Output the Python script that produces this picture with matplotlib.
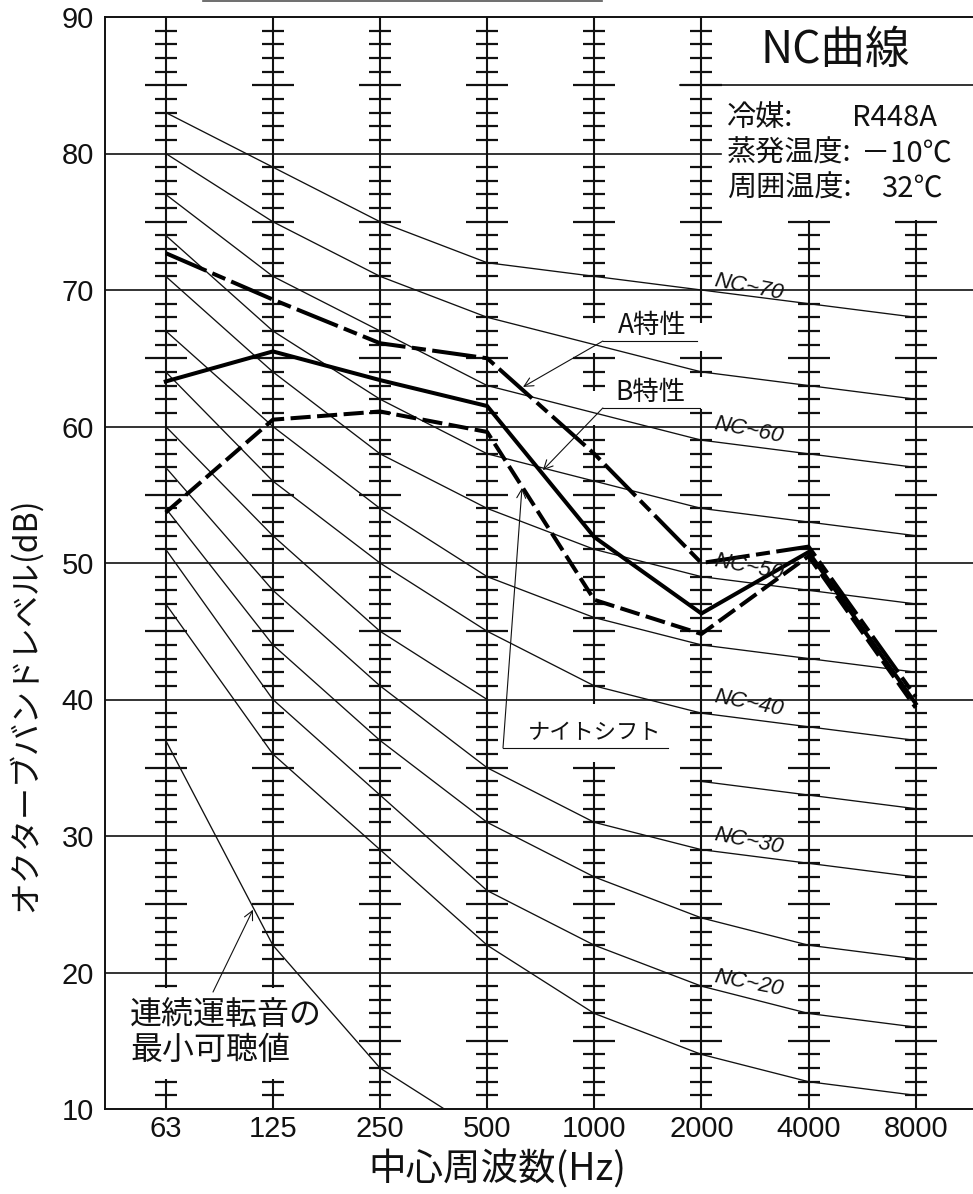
import matplotlib
matplotlib.use('Agg')
import matplotlib.pyplot as plt
from matplotlib.lines import Line2D

plt.rcParams['font.family'] = ['Noto Sans CJK JP', 'DejaVu Sans']

# ---------------- data ----------------
freq_labels = ['63', '125', '250', '500', '1000', '2000', '4000', '8000']
y_ticks = [10, 20, 30, 40, 50, 60, 70, 80, 90]

nc15 = [47, 36, 29, 22, 17, 14, 12, 11]
nc20 = [51, 40, 33, 26, 22, 19, 17, 16]
nc25 = [54, 44, 37, 31, 27, 24, 22, 21]
nc30 = [57, 48, 41, 35, 31, 29, 28, 27]
nc35 = [60, 52, 45, 40, None, 34, 33, 32]   # hidden behind the label box at 1000 Hz
nc40 = [64, 56, 50, 45, 41, 39, 38, 37]
nc45 = [67, 60, 54, 49, 46, 44, 43, 42]
nc50 = [71, 64, 58, 54, 51, 49, 48, 47]
nc55 = [74, 67, 62, 58, 56, 54, 53, 52]
nc60 = [77, 71, 67, 63, 61, 59, 58, 57]
nc65 = [80, 75, 71, 68, 66, 64, 63, 62]
nc70 = [83, 79, 75, 72, 71, 70, 69, 68]
nc_curves = [nc15, nc20, nc25, nc30, nc35, nc40, nc45, nc50, nc55, nc60, nc65, nc70]

min_audible = [37, 22, 13, 8, None, None, None, None]

a_weight = [72.7, 69.3, 66.1, 65.0, 58.0, 50.0, 51.2, 40.2]
b_weight = [63.3, 65.5, 63.4, 61.5, 51.9, 46.3, 50.8, 39.7]
night_shift = [53.7, 60.5, 61.1, 59.6, 47.3, 44.8, 50.5, 39.4]

nc_label_text = ['NC~70', 'NC~60', 'NC~50', 'NC~40', 'NC~30', 'NC~20']
nc_label_y = [70.2, 59.7, 49.7, 39.7, 29.6, 19.2]

# ---------------- layout ----------------
W, H = 973, 1194
fig = plt.figure(figsize=(W / 100, H / 100), dpi=100)
L, R, B, T = 105, 973, 1109, 17
ax = fig.add_axes([L / W, 1 - B / H, (R - L) / W, (B - T) / H])
X0, X1 = -0.567, 7.535
ax.set_xlim(X0, X1)
ax.set_ylim(10, 90)
ink = '#111111'

def xfrac(x):
    return (x - X0) / (X1 - X0)

# horizontal grid lines
for y in [20, 30, 40, 50, 60, 70]:
    ax.axhline(y, color=ink, lw=1.2, zorder=1)
ax.axhline(80, xmin=0, xmax=xfrac(5.18), color=ink, lw=1.2, zorder=1)
# box separator under the title
ax.axhline(85.05, xmin=xfrac(4.80), xmax=1, color=ink, lw=1.2, zorder=1)

for side in ['left', 'bottom', 'top']:
    ax.spines[side].set_linewidth(1.4)
    ax.spines[side].set_color(ink)
ax.spines['right'].set_visible(False)

# band lines with 1 dB scale marks (gaps where labels sit)
hidden = {
    0: [(12.2, 18.9)],
    1: [(12.2, 18.9)],
    4: [(35.4, 39.7), (65.4, 67.6), (60.1, 62.6)],
    5: [(65.5, 67.6), (61.3, 63.6)],
    6: [(75.1, 90.0)],
    7: [(75.1, 90.0)],
}
for i in range(len(freq_labels)):
    gaps = sorted(hidden.get(i, []))
    start = 10.0
    for g0, g1 in gaps:
        ax.vlines(i, start, g0, color=ink, lw=1.5, zorder=1)
        start = g1
    ax.vlines(i, start, 90, color=ink, lw=1.5, zorder=1)
    for d in range(11, 90):
        if d % 10 == 0:
            continue
        if any(g0 < d < g1 for g0, g1 in gaps):
            continue
        half = 0.196 if d % 5 == 0 else 0.103
        ax.hlines(d, i - half, i + half, color=ink, lw=1.6, zorder=1)

xs = list(range(len(freq_labels)))

# NC curves
for vals in nc_curves:
    ax.plot(xs, [float('nan') if v is None else v for v in vals], color=ink, lw=0.95, zorder=2)
ax.plot(xs, [float('nan') if v is None else v for v in min_audible], color=ink, lw=0.95, zorder=2)

# measured lines
ax.plot(xs, b_weight, color='black', lw=2.9, zorder=5, solid_joinstyle='miter')
ax.plot(xs, a_weight, color='black', lw=2.9, zorder=5, linestyle=(0, (11, 1.6, 3.5, 1.6)))
ax.plot(xs, night_shift, color='black', lw=2.9, zorder=5, linestyle=(0, (5, 1.6)))

# NC labels
for txt, yy in zip(nc_label_text, nc_label_y):
    ax.text(5.44, yy, txt, rotation=-11, ha='center', va='center', fontsize=16,
            style='italic', family=['Liberation Sans', 'DejaVu Sans'], color=ink, zorder=6)

arrow = dict(arrowstyle='->', color=ink, lw=0.8, shrinkA=0, shrinkB=0, mutation_scale=16)

# A特性
ax.text(4.54, 67.4, 'A特性', fontsize=19, ha='center', va='center', color=ink, zorder=6)
ax.plot([4.08, 4.96], [66.26, 66.26], color=ink, lw=0.8, zorder=6)
ax.annotate('', xy=(3.335, 62.9), xytext=(4.08, 66.26), arrowprops=arrow, zorder=6)
# B特性
ax.text(4.52, 62.5, 'B特性', fontsize=19, ha='center', va='center', color=ink, zorder=6)
ax.plot([4.08, 4.99], [61.36, 61.36], color=ink, lw=0.8, zorder=6)
ax.annotate('', xy=(3.52, 56.8), xytext=(4.08, 61.36), arrowprops=arrow, zorder=6)
# ナイトシフト
ax.text(3.38, 37.6, 'ナイトシフト', fontsize=16, ha='left', va='center', color=ink, zorder=6)
ax.plot([3.148, 4.69], [36.45, 36.45], color=ink, lw=0.8, zorder=6)
ax.annotate('', xy=(3.325, 55.5), xytext=(3.148, 36.45), arrowprops=arrow, zorder=6)
# 最小可聴値
ax.text(-0.334, 15.6, '連続運転音の\n最小可聴値', fontsize=23, ha='left', va='center',
        linespacing=1.12, color=ink, zorder=6)
ax.annotate('', xy=(0.814, 24.6), xytext=(0.441, 18.57), arrowprops=arrow, zorder=6)

# title box
ax.text(6.247, 87.6, 'NC曲線', fontsize=32, ha='center', va='center', color=ink, zorder=6)
info_keys = ['冷媒:', '蒸発温度:', '周囲温度:']
info_vals = ['R448A', '－10℃', '32℃']
info_y = [82.6, 80.0, 77.45]
info_right = [7.198, 7.338, 7.254]
for k, v, yy, xr in zip(info_keys, info_vals, info_y, info_right):
    ax.text(5.24, yy, k, fontsize=21, ha='left', va='center', color=ink, zorder=6)
    ax.text(xr, yy, v, fontsize=21, ha='right', va='center', color=ink, zorder=6)

# ticks
ax.set_xticks(xs)
ax.set_xticklabels(freq_labels, fontsize=21, family=['Liberation Sans', 'DejaVu Sans'])
ax.set_yticks(y_ticks)
ax.set_yticklabels([str(v) for v in y_ticks], fontsize=21, family=['Liberation Sans', 'DejaVu Sans'])
ax.tick_params(axis='x', length=0, pad=4, colors=ink)
ax.tick_params(axis='y', length=0, pad=8, colors=ink)

fig.text(497 / W, 1 - 1170 / H, '中心周波数(Hz)', fontsize=27, ha='center', va='center', color=ink)
fig.text(25 / W, 1 - 705 / H, 'オクターブバンドレベル(dB)', fontsize=23, ha='center', va='center',
         rotation=90, color=ink)

# clipped line at the very top of the page
fig.add_artist(Line2D([203 / W, 602 / W], [1 - 1 / H, 1 - 1 / H], color='#555555', lw=1.2))

fig.savefig('out.png', dpi=100, facecolor='white')
